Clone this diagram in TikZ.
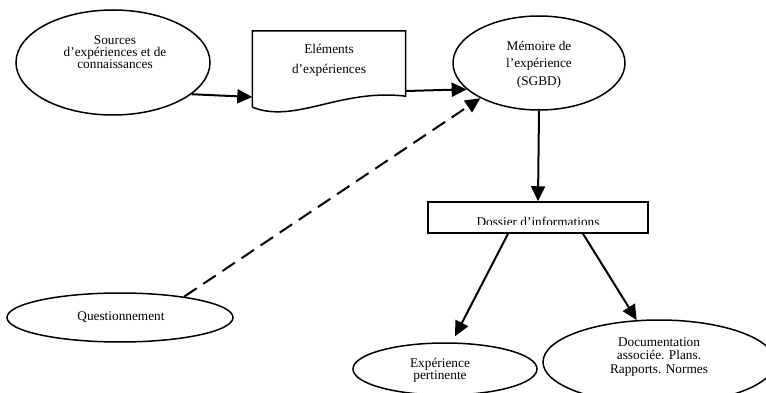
\documentclass[tikz,border=0pt]{standalone}
\usepackage{fontspec}
\setmainfont{Liberation Serif}
\usetikzlibrary{shapes.geometric,arrows.meta,calc}

\begin{document}
\begin{tikzpicture}[x=1pt,y=-1pt,
  oval/.style={ellipse, draw, line width=1.5pt, inner sep=0pt},
  lbl/.style={align=center, inner sep=0pt, font=\fontsize{13.3}{#1}\selectfont},
  lbl/.default=12,
  link/.style={line width=2pt, -{Triangle[length=15pt,width=14pt]}},
]
\useasboundingbox (0,0) rectangle (766,393);
\fill[white] (0,0) rectangle (766,393);
\clip (0,0) rectangle (766,393);

% sources
\node[oval, minimum width=194pt, minimum height=105pt] (src) at (113,62.5) {};
\node[lbl=12] (srctxt) at (115,52) {Sources\\d’expériences et de\\connaissances};

% document with a wavy bottom edge
\node[minimum width=153pt, minimum height=76pt, inner sep=0pt] (doc) at (329,69) {};
\draw[line width=1.5pt] (doc.south west) -- (doc.north west) -- (doc.north east)
  -- ([yshift=11pt]doc.south east)
  .. controls ($(doc.south west)+(88,-19)$) and ($(doc.south west)+(43,17)$) .. (doc.south west);
\node[lbl=20] (doctxt) at (329,60) {Eléments\\d’expériences};

% experience memory
\node[oval, minimum width=172pt, minimum height=94pt] (mem) at (539,63) {};
\node[lbl=17.5] (memtxt) at (539,64.5) {Mémoire de\\l’expérience\\(SGBD)};

% information file (text cut off by the box interior)
\node[draw, line width=1.5pt, minimum width=220pt, minimum height=31pt, inner sep=0pt] (dos) at (538,217.5) {};
\begin{scope}
  \clip (428,202) rectangle (648,224);
  \node[lbl, anchor=base] (dostxt) at (538,226) {Dossier d’informations};
\end{scope}

% questioning
\node[oval, minimum width=226pt, minimum height=49pt] (q) at (120,317.5) {};
\node[lbl] (qtxt) at (121,317) {Questionnement};

% outputs
\node[oval, minimum width=184pt, minimum height=52pt] (exp) at (445,369) {};
\node[lbl=12] (exptxt) at (440,370.5) {Expérience\\pertinente};

\node[oval, minimum width=232pt, minimum height=84pt] (docu) at (659,362) {};
\node[lbl=13.5] (docutxt) at (659,357) {Documentation\\associée. Plans.\\Rapports. Normes};

% connectors
\draw[link] (src.-22) -- ([yshift=-28pt]doc.west);
\draw[link] ([yshift=-22pt]doc.east) -- (mem.200);
\draw[link, dash pattern=on 15pt off 8pt] (q.18) -- (mem.211);
\draw[link] (mem.south) -- (dos.north);
\draw[link] ([xshift=-30pt]dos.south) -- ([xshift=10pt,yshift=6pt]exp.north);
\draw[link] ([xshift=45pt]dos.south) -- (docu.118);
\end{tikzpicture}
\end{document}
